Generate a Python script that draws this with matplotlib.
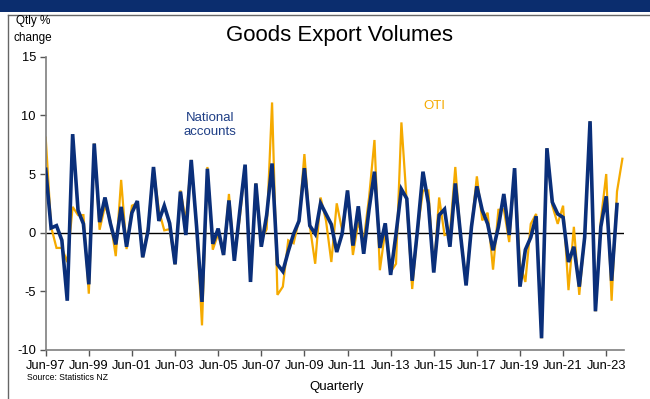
import matplotlib
matplotlib.use("Agg")
import matplotlib.pyplot as plt
from matplotlib.patches import Rectangle
from matplotlib.lines import Line2D
import numpy as np

plt.rcParams['font.family'] = ['Liberation Sans', 'DejaVu Sans']

# Quarterly % change, starting Jun-97
national_accounts = [
    5.4, 0.4, 0.6, -0.65, -5.8, 8.4, 1.9, 0.75, -4.4, 7.6,
    0.9, 3.0, 0.8, -1.0, 2.2, -1.2, 1.7, 2.7, -2.1, 0.2,
    5.6, 1.0, 2.3, 0.8, -2.7, 3.5, -0.2, 6.2, 0.5, -5.9,
    5.45, -0.95, 0.35, -1.9, 2.75, -2.4, 1.8, 5.8, -4.2, 4.2,
    -1.2, 1.5, 5.9, -2.7, -3.3, -1.6, -0.1, 1.0, 5.5, 0.6,
    -0.1, 2.5, 1.6, 0.7, -1.65, -0.1, 3.6, -1.1, 2.25, -1.8,
    2.0, 5.2, -1.3, 0.8, -3.6, -0.1, 3.7, 2.9, -4.1, 0.3,
    5.2, 2.5, -3.4, 1.5, 2.0, -1.2, 4.2, -0.3, -4.5, 0.5,
    3.95, 1.9, 0.75, -1.5, 0.5, 3.3, -0.2, 5.5, -4.6, -1.45,
    -0.4, 1.4, -9.0, 7.2, 2.6, 1.6, 1.3, -2.5, -1.2, -4.6,
    -0.4, 9.5, -6.7, 0.5, 3.1, -4.1, 2.4,
]
oti = [
    8.1, 0.5, -1.3, -1.3, -2.5, 2.2, 1.5, 1.5, -5.2, 7.6,
    0.25, 2.3, 1.0, -2.0, 4.5, -1.4, 2.3, 2.5, -2.1, 0.5,
    5.5, 1.9, 0.2, 0.3, -2.7, 3.6, 1.0, 6.2, 0.5, -7.9,
    5.6, -1.45, -0.1, -1.9, 3.3, -2.2, 1.2, 5.7, -4.2, 4.2,
    -0.6, 0.3, 11.1, -5.3, -4.6, -0.65, -0.9, 1.1, 6.7, 0.6,
    -2.65, 3.0, 1.05, -2.5, 2.5, 0.2, 3.6, -1.9, 0.9, -0.65,
    3.0, 7.9, -3.2, 0.2, -3.35, -2.65, 9.4, 2.5, -4.8, 0.2,
    3.6, 3.6, -3.35, 3.0, -0.2, -0.1, 5.6, -0.4, -4.1, 0.5,
    4.8, 1.05, 1.7, -3.15, 1.95, 2.0, -0.8, 5.3, -2.6, -4.2,
    0.75, 1.6, -9.0, 7.2, 2.3, 0.75, 2.3, -4.9, 0.5, -5.3,
    -0.4, 9.5, -6.7, 1.05, 5.0, -5.8, 3.5, 6.3,
]
tick_labels = ["Jun-97", "Jun-99", "Jun-01", "Jun-03", "Jun-05", "Jun-07", "Jun-09",
               "Jun-11", "Jun-13", "Jun-15", "Jun-17", "Jun-19", "Jun-21", "Jun-23"]
y_ticks = [-10, -5, 0, 5, 10, 15]

W, H = 650, 399
fig = plt.figure(figsize=(W / 100, H / 100), dpi=100)

# banner and frame
fig.patches.append(Rectangle((0, 1 - 12 / H), 1, 12 / H, transform=fig.transFigure,
                             facecolor='#0b2d6e', edgecolor='none'))
fig.lines.append(Line2D([7.5 / W, 7.5 / W], [0, 1 - 14.5 / H], transform=fig.transFigure,
                        color='#666666', lw=1.0))
fig.lines.append(Line2D([7.5 / W, 1], [1 - 14.5 / H, 1 - 14.5 / H], transform=fig.transFigure,
                        color='#666666', lw=1.0))

left, right = 45.7, 624
top, bottom = 56.7, 350
ax = fig.add_axes([left / W, 1 - bottom / H, (right - left) / W, (bottom - top) / H])

x_na = np.arange(len(national_accounts))
x_oti = np.arange(len(oti))
ax.axhline(0, color='black', lw=1.0, zorder=1)
ax.plot(x_oti, oti, color='#F5AA00', lw=1.6, zorder=2, solid_joinstyle='miter')
ax.plot(x_na, national_accounts, color='#0A2F7A', lw=2.6, zorder=3, solid_joinstyle='miter')

ax.set_ylim(-10, 15)
ax.set_yticks(y_ticks)
ax.set_yticklabels([str(v) for v in y_ticks])
ax.set_xlim(0, 107.3)
ax.set_xticks(np.arange(0, 8 * len(tick_labels), 8))
ax.set_xticklabels(tick_labels)

for s in ['top', 'right']:
    ax.spines[s].set_visible(False)
for s in ['left', 'bottom']:
    ax.spines[s].set_color('#7f7f7f')
    ax.spines[s].set_linewidth(1.2)
ax.tick_params(axis='both', direction='out', length=4, width=1, color='#555555',
               labelsize=9.3, labelcolor='black', pad=3)

fig.text(33 / W, 1 - 21 / H, "Qtly %", ha='center', va='center', fontsize=8.5)
fig.text(33 / W, 1 - 38 / H, "change", ha='center', va='center', fontsize=8.5)
fig.text(340 / W, 1 - 35 / H, "Goods Export Volumes", ha='center', va='center', fontsize=16)
fig.text(210 / W, 1 - 125 / H, "National\naccounts", ha='center', va='center',
         fontsize=9.5, color='#1F3F86', linespacing=1.2)
fig.text(434 / W, 1 - 106 / H, "OTI", ha='center', va='center', fontsize=9.5, color='#F5AA00')
fig.text(27 / W, 1 - 378 / H, "Source: Statistics NZ", ha='left', va='center', fontsize=6.2)
fig.text(337 / W, 1 - 387 / H, "Quarterly", ha='center', va='center', fontsize=9.5)

fig.savefig("out.png", dpi=100)
